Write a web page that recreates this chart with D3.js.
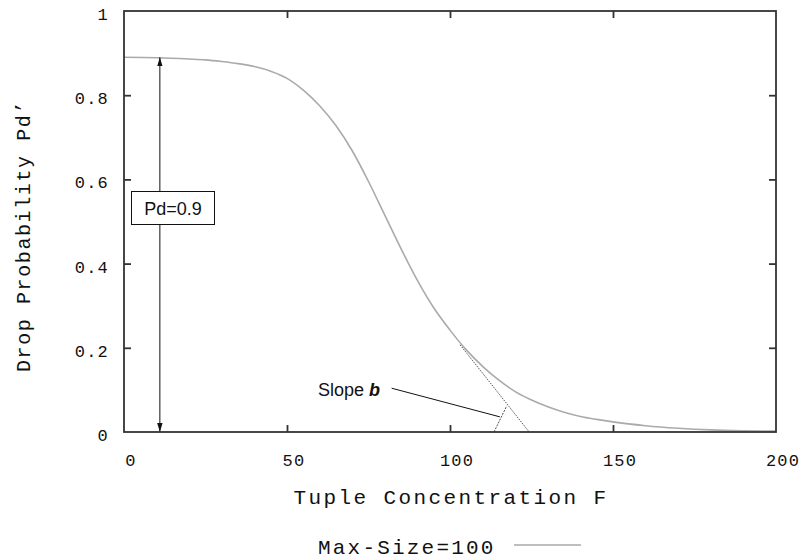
<!DOCTYPE html>
<html>
<head>
<meta charset="utf-8">
<script src="https://cdn.jsdelivr.net/npm/d3@7"></script>
<style>
  body { margin: 0; background: #fff; }
  .mono { font-family: "Liberation Mono", "Courier New", monospace; fill: #111; }
  .sans { font-family: "Liberation Sans", Arial, sans-serif; fill: #111; }
</style>
</head>
<body>
<svg width="801" height="560"></svg>
<script>
// values
var concentration = [0, 10, 20, 25, 30, 35, 40, 45, 50, 55, 60, 65, 70, 75, 80, 85, 90, 95, 100, 105, 110, 115, 120, 125, 130, 135, 140, 145, 150, 160, 170, 180, 190, 200];
var dropProb = [0.89, 0.889, 0.886, 0.884, 0.88, 0.875, 0.868, 0.857, 0.84, 0.812, 0.775, 0.728, 0.668, 0.595, 0.515, 0.435, 0.36, 0.295, 0.242, 0.195, 0.156, 0.123, 0.096, 0.076, 0.06, 0.047, 0.037, 0.03, 0.024, 0.015, 0.009, 0.005, 0.003, 0.002];
var xTicks = [0, 50, 100, 150, 200];
var yTicks = [0, 0.2, 0.4, 0.6, 0.8, 1];
var pdArrow = { x: 11, y0: 0, y1: 0.89 };
var tangent = [[103.1, 0.207], [124.3, 0]];
var tickMark = [[113.5, 0], [117.4, 0.062]];
var slopePointer = [[82.1, 0.104], [115.3, 0.036]];

var svg = d3.select('svg');
var pLeft = 124, pRight = 776, pTop = 11, pBottom = 432;

var x = d3.scaleLinear().domain([0, 200]).range([pLeft, pRight]);
var y = d3.scaleLinear().domain([0, 1]).range([pBottom, pTop]);

var defs = svg.append('defs');
['start', 'end'].forEach(function(k) {
  defs.append('marker')
    .attr('id', 'arr-' + k)
    .attr('viewBox', '0 0 10 10')
    .attr('refX', k === 'end' ? 10 : 0).attr('refY', 5)
    .attr('markerWidth', 9).attr('markerHeight', 9)
    .attr('markerUnits', 'userSpaceOnUse')
    .attr('orient', 'auto')
    .append('path')
    .attr('d', k === 'end' ? 'M0,2 L10,5 L0,8 Z' : 'M10,2 L0,5 L10,8 Z')
    .attr('fill', '#111');
});

// curve
var line = d3.line()
  .x(function(d, i) { return x(concentration[i]); })
  .y(function(d) { return y(d); })
  .curve(d3.curveMonotoneX);

svg.append('path')
  .datum(dropProb)
  .attr('d', line)
  .attr('fill', 'none')
  .attr('stroke', '#aaa')
  .attr('stroke-width', 1.6);

// tangent (dotted)
var seg = d3.line().x(function(d) { return x(d[0]); }).y(function(d) { return y(d[1]); });
svg.append('path').attr('d', seg(tangent))
  .attr('stroke', '#222').attr('stroke-width', 0.8).attr('stroke-dasharray', '1.5,1.2').attr('fill', 'none');
svg.append('path').attr('d', seg(tickMark))
  .attr('stroke', '#222').attr('stroke-width', 0.8).attr('stroke-dasharray', '2,1.2').attr('fill', 'none');
svg.append('path').attr('d', seg(slopePointer))
  .attr('stroke', '#111').attr('stroke-width', 1).attr('fill', 'none');

// Pd arrow
svg.append('line')
  .attr('x1', x(pdArrow.x)).attr('x2', x(pdArrow.x))
  .attr('y1', y(pdArrow.y0)).attr('y2', y(pdArrow.y1))
  .attr('stroke', '#111').attr('stroke-width', 1)
  .attr('marker-start', 'url(#arr-start)')
  .attr('marker-end', 'url(#arr-end)');

svg.append('rect')
  .attr('x', 131.5).attr('y', 191.5).attr('width', 83).attr('height', 33)
  .attr('fill', '#fff').attr('stroke', '#111').attr('stroke-width', 1);
svg.append('text').attr('class', 'sans')
  .attr('x', 173).attr('y', 214.5).attr('text-anchor', 'middle')
  .attr('font-size', 18).text('Pd=0.9');

var sl = svg.append('text').attr('class', 'sans')
  .attr('x', 318).attr('y', 396).attr('font-size', 18);
sl.append('tspan').text('Slope ');
sl.append('tspan').attr('font-weight', 'bold').attr('font-style', 'italic').text('b');

// frame
svg.append('rect')
  .attr('x', pLeft).attr('y', pTop).attr('width', pRight - pLeft).attr('height', pBottom - pTop)
  .attr('fill', 'none').attr('stroke', '#333').attr('stroke-width', 1.8);

// ticks (inward, mirrored)
var tk = 7;
var xAxisB = d3.axisBottom(x).tickValues(xTicks.slice(1, -1)).tickSizeInner(-tk).tickSizeOuter(0).tickFormat('');
var xAxisT = d3.axisTop(x).tickValues(xTicks.slice(1, -1)).tickSizeInner(-tk).tickSizeOuter(0).tickFormat('');
var yAxisL = d3.axisLeft(y).tickValues(yTicks.slice(1, -1)).tickSizeInner(-tk).tickSizeOuter(0).tickFormat('');
var yAxisR = d3.axisRight(y).tickValues(yTicks.slice(1, -1)).tickSizeInner(-tk).tickSizeOuter(0).tickFormat('');
[[xAxisB, 'translate(0,' + pBottom + ')'], [xAxisT, 'translate(0,' + pTop + ')'],
 [yAxisL, 'translate(' + pLeft + ',0)'], [yAxisR, 'translate(' + pRight + ',0)']].forEach(function(a) {
  var g = svg.append('g').attr('transform', a[1]).call(a[0]);
  g.select('.domain').remove();
  g.selectAll('line').attr('stroke', '#333').attr('stroke-width', 1.8);
});

// tick labels
svg.append('g').selectAll('text').data(xTicks).enter().append('text')
  .attr('class', 'mono')
  .attr('x', function(d) { return x(d) + 7; })
  .attr('y', 466)
  .attr('text-anchor', 'middle')
  .attr('font-size', 17).attr('letter-spacing', 1.2)
  .text(function(d) { return d; });

svg.append('g').selectAll('text').data(yTicks).enter().append('text')
  .attr('class', 'mono')
  .attr('x', 109)
  .attr('y', function(d) { return y(d) + 9; })
  .attr('text-anchor', 'end')
  .attr('font-size', 17).attr('letter-spacing', 1.2)
  .text(function(d) { return d; });

// axis titles
svg.append('text').attr('class', 'mono')
  .attr('x', 451).attr('y', 504).attr('text-anchor', 'middle')
  .attr('font-size', 21).attr('letter-spacing', 2.4)
  .text('Tuple Concentration F');

svg.append('text').attr('class', 'mono')
  .attr('transform', 'translate(30,236) rotate(-90)')
  .attr('text-anchor', 'middle')
  .attr('font-size', 20).attr('letter-spacing', 1.6)
  .text('Drop Probability Pd\u2019');

// legend
svg.append('text').attr('class', 'mono')
  .attr('x', 318).attr('y', 554)
  .attr('font-size', 21).attr('letter-spacing', 2.2)
  .text('Max-Size=100');
svg.append('line')
  .attr('x1', 514).attr('x2', 581).attr('y1', 545).attr('y2', 545)
  .attr('stroke', '#aaa').attr('stroke-width', 1.6);
</script>
</body>
</html>
